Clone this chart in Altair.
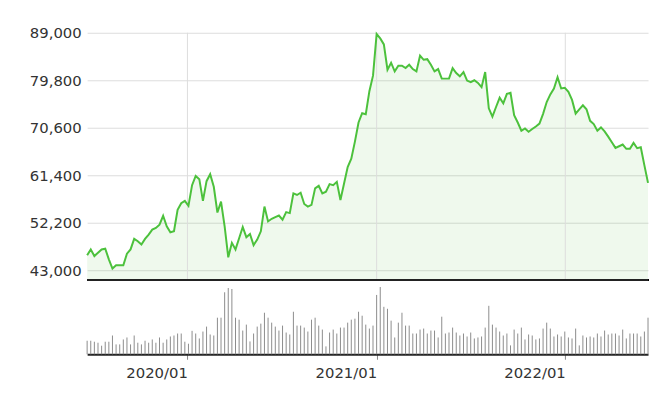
import altair as alt
import pandas as pd

# ---- data (weekly, starting 2019-06-21) ----
start_date = "2019-06-21"
price = [
    45875, 47025, 45740, 46390, 47025, 47160, 45110, 43320, 43960, 43960,
    43960, 46200, 47025, 49070, 48620, 47980, 49070, 49900, 50860, 51180,
    51815, 53540, 51490, 50350, 50540, 54690, 55970, 56420, 55460, 59480,
    61270, 60630, 56420, 60250, 61590, 59160, 54180, 56290, 51500, 45500,
    48300, 47025, 49200, 51370, 49400, 50030, 47850, 48940, 50540, 55330,
    52450, 52970, 53300, 53600, 52775, 54250, 54060, 57890, 57570, 58010,
    55840, 55330, 55650, 58850, 59350, 57890, 58200, 59675, 59480, 60120,
    56610, 59800, 62990, 64600, 67920, 71620, 73420, 73225, 77690, 80700,
    88750, 87910, 86760, 81850, 83200, 81525, 82610, 82610, 82160, 82800,
    81970, 81525, 84590, 83770, 83890, 82800, 81525, 81970, 80120, 80120,
    80120, 82160, 81200, 80570, 81390, 79740, 79420, 79800, 79290, 78460,
    81390, 74375, 72770, 74625, 76410, 75330, 77175, 77370, 73030, 71620,
    70025, 70470, 69830, 70350, 70850, 71400, 73300, 75580, 77060, 78210,
    80375, 78210, 78330, 77560, 76000, 73340, 74180, 74950, 74180, 71940,
    71310, 70025, 70660, 69900, 68875, 67790, 66700, 67020, 67340, 66520,
    66520, 67660, 66640, 66830, 63320, 59920,
]
volume_k = [
    137, 137, 127, 117, 87, 127, 127, 190, 100, 100, 150, 170, 100, 190, 117,
    100, 137, 117, 150, 117, 170, 117, 150, 180, 190, 210, 210, 127, 107, 237,
    210, 160, 230, 280, 200, 190, 370, 370, 627,
    670, 660, 370, 350, 240, 300, 130, 210, 280, 310, 420, 370, 320, 280, 240,
    290, 220, 200, 430, 290, 290, 270, 230, 350, 370, 290, 250, 80, 220, 250,
    210, 270, 270, 320, 350, 360, 430, 390, 300,
    260, 290, 600, 680, 480, 460, 340, 170, 320, 420, 290, 290, 210, 210, 250,
    260, 210, 240, 240, 170, 380, 210, 220, 270, 220, 190, 210, 180, 220, 160,
    170, 180, 270, 490, 300, 270, 230, 190, 210,
    90, 250, 210, 270, 150, 200, 190, 150, 160, 260, 320, 260, 180, 200, 180,
    230, 170, 160, 260, 90, 190, 170, 180, 170, 210, 180, 240, 200, 210, 210,
    190, 250, 160, 210, 210, 210, 180, 230, 370,
]
year_ticks = ["2020-01-01", "2021-01-01", "2022-01-01"]
y_ticks = [43000, 52200, 61400, 70600, 79800, 89000]
price_floor = 41080
price_top = 89000
volume_top_k = 680

dates = pd.date_range(start_date, periods=len(price), freq="7D")
df = pd.DataFrame({
    "date": dates.strftime("%Y-%m-%dT00:00:00"),
    "price": price,
    "volume": [v * 1000 for v in volume_k],
})
grid_df = pd.DataFrame({"date": [d + "T00:00:00" for d in year_ticks]})

W, H = 567, 325
TOP_H = 250
FONT = "DejaVu Sans"

x_axis = alt.Axis(
    values=[alt.DateTime(year=int(d[:4]), month=1, date=1) for d in year_ticks],
    format="%Y/%m", grid=False, title=None,
    domainColor="#222222", domainWidth=2,
    tickColor="#888888", tickSize=5, tickWidth=1,
    labelFont=FONT, labelFontSize=15, labelColor="#333333",
    labelAlign="right", labelPadding=6, labelFlush=False,
)
xenc = alt.X("date:T", axis=x_axis, scale=alt.Scale(nice=False))

price_scale = alt.Scale(domain=[price_floor, price_top], range=[TOP_H, 0], nice=False, zero=False)
vol_scale = alt.Scale(domain=[0, volume_top_k * 1000], range=[H, H - 68], nice=False, zero=False)

y_axis = alt.Axis(
    values=y_ticks, format=",d", title=None,
    grid=True, gridColor="#dddddd", gridWidth=1,
    domain=False, ticks=False, tickSize=0,
    labelFont=FONT, labelFontSize=15, labelColor="#333333", labelPadding=6,
)

base = alt.Chart(df)

area = base.mark_area(color="#4cc13c", opacity=0.09).encode(
    x=xenc,
    y=alt.Y("price:Q", scale=price_scale, axis=y_axis),
    y2=alt.datum(price_floor),
)

vgrid = alt.Chart(grid_df).mark_rule(color="#dddddd", strokeWidth=1).encode(
    x=xenc, y=alt.value(0), y2=alt.value(TOP_H),
)

line = base.mark_line(color="#4cc13c", strokeWidth=2).encode(
    x=xenc,
    y=alt.Y("price:Q", scale=price_scale, axis=None),
)

sep = base.mark_rule(color="#222222", strokeWidth=2).encode(
    x=alt.value(0), x2=alt.value(W), y=alt.value(TOP_H),
)

vol = base.mark_rule(color="#8c8c8c", strokeWidth=1).encode(
    x=xenc,
    y=alt.Y("volume:Q", scale=vol_scale, axis=None),
    y2=alt.datum(0),
)

chart = alt.layer(area, vgrid, line, sep, vol).resolve_scale(
    y="independent"
).properties(
    width=W, height=H,
    autosize=alt.AutoSizeParams(type="none"),
    padding={"left": 80, "top": 23, "right": 2, "bottom": 32},
).configure_view(strokeWidth=0)

chart.save("out.html", embed_options={"renderer": "svg", "actions": False})
